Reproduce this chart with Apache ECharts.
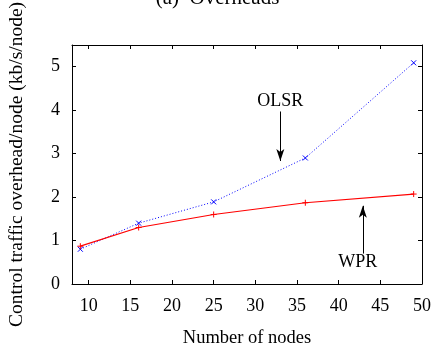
<!DOCTYPE html>
<html>
<head>
<meta charset="utf-8">
<script src="https://cdn.jsdelivr.net/npm/echarts@6/dist/echarts.min.js"></script>
<style>
  html, body { margin: 0; padding: 0; background: #fff; }
  #chart { width: 435px; height: 347px; }
</style>
</head>
<body>
<div id="chart"></div>
<script>
// values
const nodes = [9, 16, 25, 36, 49];
const olsr = [0.80, 1.40, 1.89, 2.90, 5.09];
const wpr = [0.87, 1.30, 1.60, 1.87, 2.07];
const xTicks = [10, 15, 20, 25, 30, 35, 40, 45, 50];
const yTicks = [0, 1, 2, 3, 4, 5];

const serif = "'Liberation Serif', 'DejaVu Serif', serif";
const crossPath = 'path://M0,0L10,10M10,0L0,10';
const plusPath = 'path://M5,0L5,10M0,5L10,5';

const frameAxis = {
  axisLine: { show: true, onZero: false, lineStyle: { color: '#000', width: 1 } },
  axisTick: { show: true, inside: true, length: 4, lineStyle: { color: '#000' } },
  splitLine: { show: false }
};

const chart = echarts.init(document.getElementById('chart'));
chart.setOption({
  animation: false,
  title: {
    text: '(a)  Overheads',
    left: 'center',
    top: -17,
    textStyle: { fontFamily: serif, fontSize: 21, fontWeight: 'normal', color: '#000' }
  },
  grid: { left: 72, right: 13, top: 45, bottom: 63, outerBoundsMode: 'none' },
  xAxis: [
    {
      type: 'value', min: 8, max: 50, position: 'bottom',
      ...frameAxis,
      axisTick: { ...frameAxis.axisTick, customValues: xTicks },
      axisLabel: { customValues: xTicks, color: '#000', fontFamily: serif, fontSize: 18, margin: 13 },
      name: 'Number of nodes', nameLocation: 'middle', nameGap: 45,
      nameTextStyle: { fontFamily: serif, fontSize: 18.5, color: '#000' }
    },
    {
      type: 'value', min: 8, max: 50, position: 'top',
      ...frameAxis,
      axisTick: { ...frameAxis.axisTick, customValues: xTicks },
      axisLabel: { show: false }
    }
  ],
  yAxis: [
    {
      type: 'value', min: 0, max: 5.5, position: 'left',
      ...frameAxis,
      axisTick: { ...frameAxis.axisTick, customValues: yTicks },
      axisLabel: { customValues: yTicks, color: '#000', fontFamily: serif, fontSize: 18, margin: 12 },
      name: 'Control traffic overhead/node (kb/s/node)', nameLocation: 'middle', nameGap: 45,
      nameTextStyle: { fontFamily: serif, fontSize: 19.5, color: '#000' }
    },
    {
      type: 'value', min: 0, max: 5.5, position: 'right',
      ...frameAxis,
      axisTick: { ...frameAxis.axisTick, customValues: yTicks },
      axisLabel: { show: false }
    }
  ],
  series: [
    {
      name: 'OLSR',
      type: 'line',
      data: nodes.map((n, i) => [n, olsr[i]]),
      lineStyle: { color: '#0000ff', width: 1, type: [1, 2] },
      symbol: crossPath,
      symbolSize: 5,
      itemStyle: { color: 'none', borderColor: '#0000ff', borderWidth: 1 },
      markLine: {
        silent: true,
        symbol: ['none', 'arrow'],
        symbolSize: [6, 12],
        label: { show: false },
        lineStyle: { color: '#000', width: 1, type: 'solid' },
        data: [[{ coord: [33, 3.97] }, { coord: [33, 2.83] }]]
      },
      markPoint: {
        silent: true,
        symbol: 'circle',
        symbolSize: 0,
        label: { show: true, position: 'inside', formatter: 'OLSR', color: '#000', fontFamily: serif, fontSize: 18 },
        data: [{ coord: [33, 4.2] }]
      }
    },
    {
      name: 'WPR',
      type: 'line',
      data: nodes.map((n, i) => [n, wpr[i]]),
      lineStyle: { color: '#ff0000', width: 1.2 },
      symbol: plusPath,
      symbolSize: 6,
      itemStyle: { color: 'none', borderColor: '#ff0000', borderWidth: 1 },
      markLine: {
        silent: true,
        symbol: ['none', 'arrow'],
        symbolSize: [6, 12],
        label: { show: false },
        lineStyle: { color: '#000', width: 1, type: 'solid' },
        data: [[{ coord: [42.9, 0.70] }, { coord: [42.9, 1.80] }]]
      },
      markPoint: {
        silent: true,
        symbol: 'circle',
        symbolSize: 0,
        label: { show: true, position: 'inside', formatter: 'WPR', color: '#000', fontFamily: serif, fontSize: 18 },
        data: [{ coord: [42.3, 0.5] }]
      }
    }
  ]
});
</script>
</body>
</html>
